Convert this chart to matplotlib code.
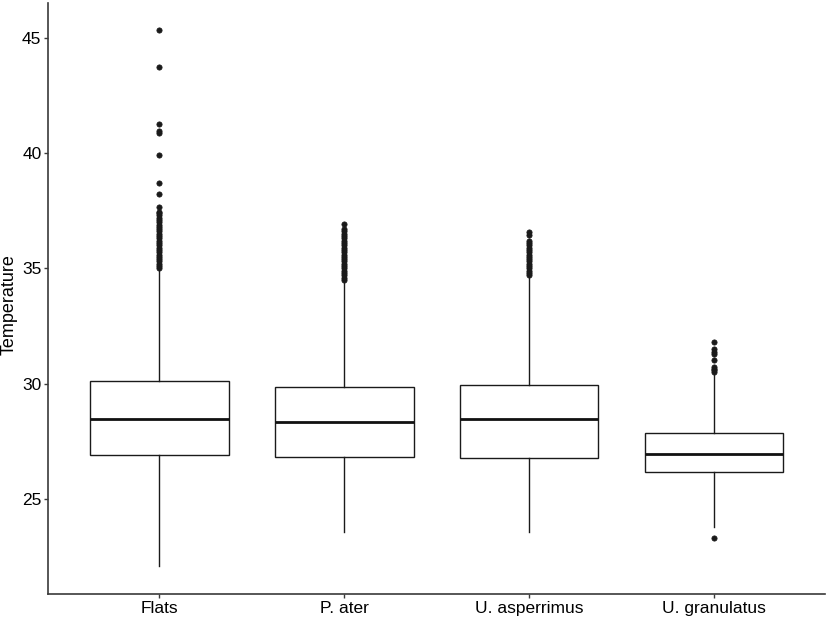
import matplotlib.pyplot as plt

plt.rcParams['font.family'] = ['Liberation Sans', 'DejaVu Sans']

# box statistics
groups = ['Flats', 'P. ater', 'U. asperrimus', 'U. granulatus']
q1 = [26.91, 26.81, 26.79, 26.16]
med = [28.46, 28.34, 28.46, 26.94]
q3 = [30.13, 29.86, 29.93, 27.88]
whis_lo = [22.08, 23.59, 23.59, 23.80]
whis_hi = [34.96, 34.42, 34.62, 30.40]

# outliers (the dense runs are typed at 0.1 steps, as they look in the picture)
flats_out = [45.35, 43.72, 41.27, 40.96, 40.88, 39.93, 38.69, 38.22, 37.66,
             37.45, 37.4, 37.3, 37.2, 37.1, 37.0, 36.9, 36.8, 36.7, 36.6, 36.5,
             36.4, 36.3, 36.2, 36.1, 36.0, 35.9, 35.8, 35.7, 35.6, 35.5, 35.4,
             35.3, 35.2, 35.1, 35.0]
pater_out = [36.94, 36.69, 36.6, 36.5, 36.4, 36.3, 36.2, 36.1, 36.0, 35.9,
             35.8, 35.7, 35.6, 35.5, 35.4, 35.3, 35.2, 35.1, 35.0, 34.9, 34.8,
             34.7, 34.6, 34.5]
uasp_out = [36.58, 36.45, 36.2, 36.1, 36.0, 35.9, 35.8, 35.7, 35.6, 35.5,
            35.4, 35.3, 35.2, 35.1, 35.0, 34.9, 34.8, 34.7]
ugran_out = [31.82, 31.49, 31.39, 31.28, 31.04, 30.74, 30.65, 30.58, 30.52,
             23.31]
outliers = [flats_out, pater_out, uasp_out, ugran_out]

stats = []
for i, g in enumerate(groups):
    stats.append({'label': g, 'q1': q1[i], 'med': med[i], 'q3': q3[i],
                  'whislo': whis_lo[i], 'whishi': whis_hi[i],
                  'fliers': outliers[i]})

fig = plt.figure(figsize=(8.29, 6.18), dpi=100)
ax = fig.add_axes([0.0583, 0.0393, 0.9369, 0.9554])

ax.bxp(stats, positions=[1, 2, 3, 4], widths=0.75, showcaps=False,
       patch_artist=True,
       boxprops=dict(facecolor='white', edgecolor='#1a1a1a', linewidth=1.0),
       medianprops=dict(color='#111111', linewidth=2.0),
       whiskerprops=dict(color='#1a1a1a', linewidth=1.0),
       flierprops=dict(marker='o', markerfacecolor='#1a1a1a',
                       markeredgecolor='#1a1a1a', markersize=3.8,
                       markeredgewidth=0.5))

ax.set_xlim(0.4, 4.6)
ax.set_ylim(20.90, 46.49)
ax.set_yticks([25, 30, 35, 40, 45])
ax.set_xticks([1, 2, 3, 4])
ax.set_xticklabels(groups)

for s in ['top', 'right']:
    ax.spines[s].set_visible(False)
for s in ['left', 'bottom']:
    ax.spines[s].set_linewidth(1.2)
    ax.spines[s].set_color('#3a3a3a')

ax.tick_params(axis='both', length=3, width=1.0, color='#3a3a3a',
               labelsize=12.5, labelcolor='black', pad=2)
ax.set_ylabel('Temperature', fontsize=13)
ax.yaxis.set_label_coords(-0.040, 0.489)

fig.savefig('out.png', dpi=100)
